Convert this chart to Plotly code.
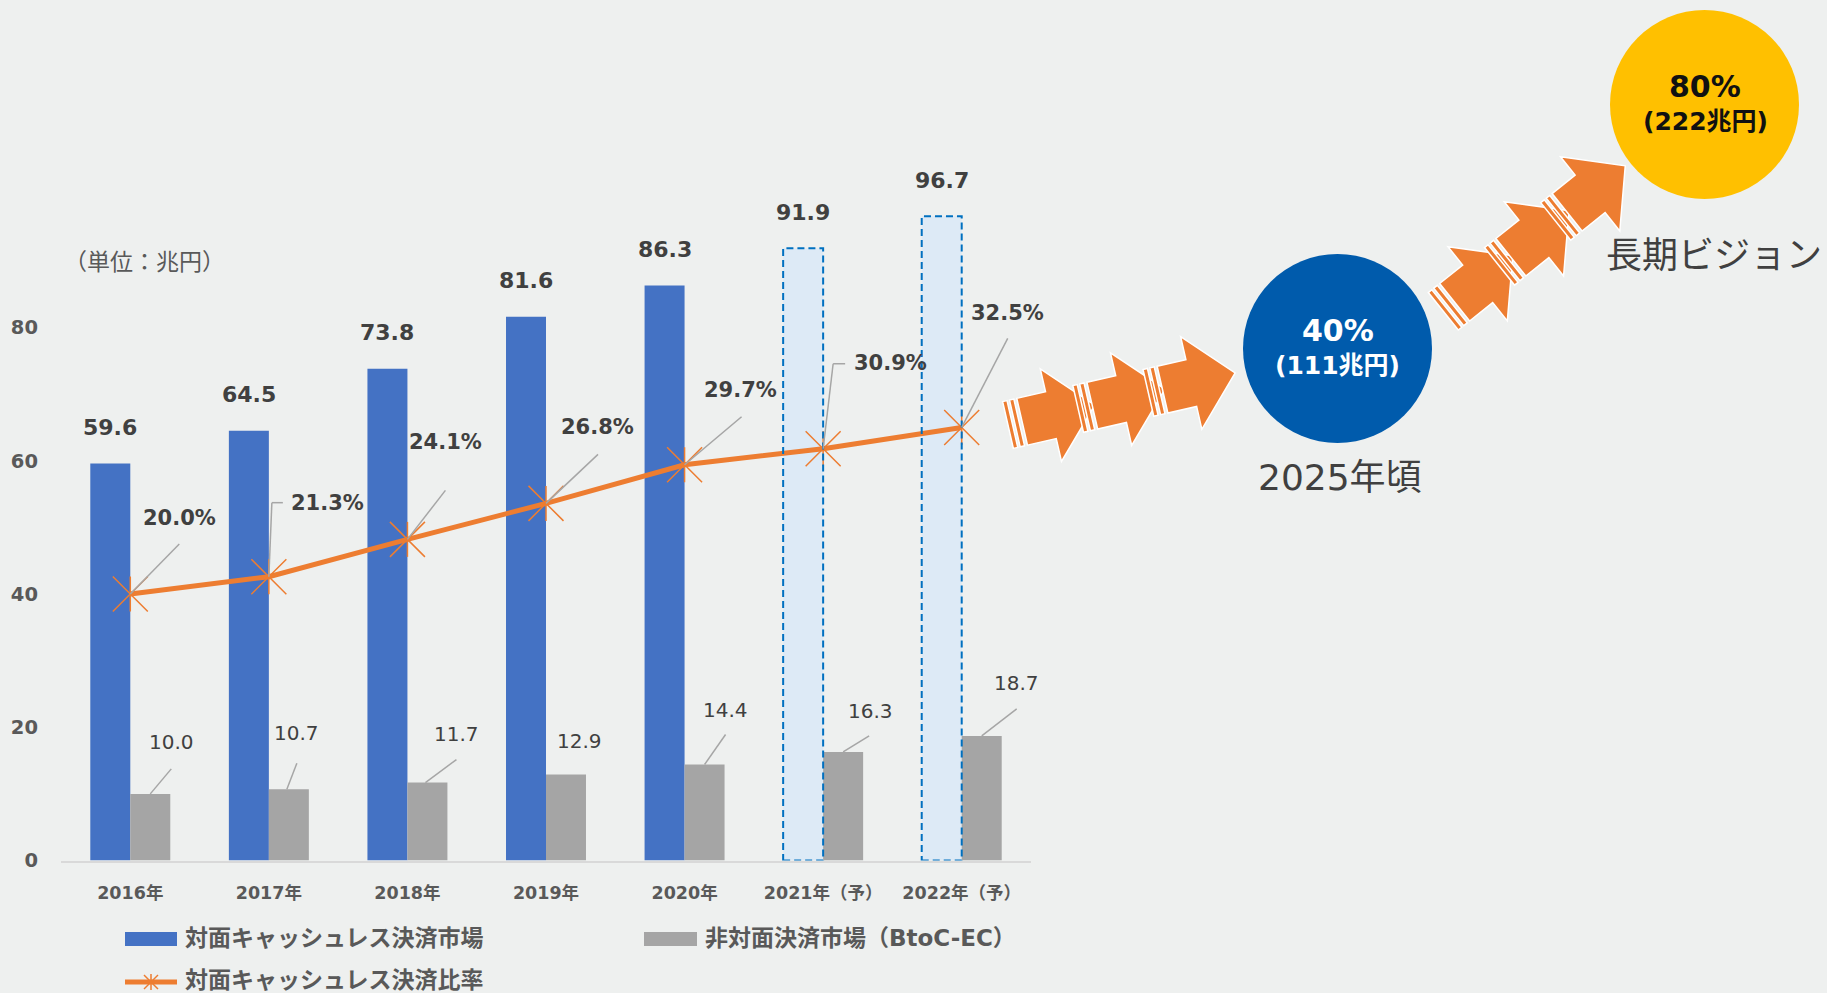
import numpy as np
import plotly.graph_objects as go

# ---------------- data ----------------
years = ["2016年", "2017年", "2018年", "2019年", "2020年", "2021年（予）", "2022年（予）"]
face_to_face = [59.6, 64.5, 73.8, 81.6, 86.3, 91.9, 96.7]          # 対面キャッシュレス決済市場
non_face = [10.0, 10.7, 11.7, 12.9, 14.4, 16.3, 18.7]              # 非対面決済市場（BtoC-EC）
ratio_pct = [20.0, 21.3, 24.1, 26.8, 29.7, 30.9, 32.5]             # 対面キャッシュレス決済比率
is_forecast = [False, False, False, False, False, True, True]
y_ticks = [0, 20, 40, 60, 80]
name_face = "対面キャッシュレス決済市場"
name_non = "非対面決済市場（BtoC-EC）"
name_ratio = "対面キャッシュレス決済比率"
unit_label = "（単位：兆円）"
target_2025 = ["40%", "(111兆円)", "2025年頃"]
target_long = ["80%", "(222兆円)", "長期ビジョン"]

# ---------------- style ----------------
W, H = 1827, 993
BG = "#EEF0EF"
FONT = "DejaVu Sans, Noto Sans CJK JP, sans-serif"
CJK = "Noto Sans CJK JP, DejaVu Sans, sans-serif"
BLUE = "#4472C4"
LIGHT_BLUE = "#DDEAF6"
DASH_BLUE = "#0070C0"
GRAY = "#A5A5A5"
ORANGE = "#ED7D31"
TXT = "#404040"
AX_TXT = "#595959"
LEADER = "#A6A6A6"
BW = 0.2886  # bar width in category units
Y_MAX = 110

# plot area in pixels
PX_L, PX_R = 61, 1031
PX_BOTTOM = 860.5
PX_PER_UNIT = 6.6625
PX_TOP = PX_BOTTOM - Y_MAX * PX_PER_UNIT


def px(x):
    return x / W


def py(y):
    return 1 - y / H


xs = list(range(len(years)))

fig = go.Figure()
fig.add_trace(go.Bar(
    x=xs, y=face_to_face, width=BW, offset=-BW, name=name_face,
    marker=dict(color=[LIGHT_BLUE if f else BLUE for f in is_forecast], line=dict(width=0)),
    hoverinfo="skip"))
fig.add_trace(go.Bar(
    x=xs, y=non_face, width=BW, offset=0, name=name_non,
    marker=dict(color=GRAY, line=dict(width=0)), hoverinfo="skip"))
fig.add_trace(go.Scatter(
    x=xs, y=ratio_pct, yaxis="y2", mode="lines+markers", name=name_ratio,
    line=dict(color=ORANGE, width=5),
    marker=dict(symbol="x-thin-open", size=35, color=ORANGE, line=dict(color=ORANGE, width=1.5)),
    hoverinfo="skip"))
fig.add_trace(go.Scatter(
    x=xs, y=ratio_pct, yaxis="y2", mode="markers", showlegend=False,
    marker=dict(symbol="line-ns-open", size=25, color=ORANGE, line=dict(color=ORANGE, width=1.5)),
    hoverinfo="skip"))

shapes = []
annotations = []

# dashed outline for forecast bars
for i, (v, f) in enumerate(zip(face_to_face, is_forecast)):
    if f:
        shapes.append(dict(type="rect", xref="x", yref="y", x0=i - BW, x1=i, y0=0, y1=v,
                           line=dict(color=DASH_BLUE, width=2, dash="7px,4px"),
                           fillcolor="rgba(0,0,0,0)", layer="above"))

# blue bar labels
for i, v in enumerate(face_to_face):
    annotations.append(dict(x=i - BW / 2, y=v, xref="x", yref="y", yshift=36,
                            text=f"{v:.1f}", showarrow=False,
                            font=dict(family=FONT, size=22, color=TXT, weight="bold")))

# gray bar labels (pixel offsets of label / leader end)
gray_label_off = [(21, 52), (8, 56), (29, 49), (13, 34), (21, 55), (27, 41), (35, 53)]
gray_leader = [((0, 0), (21, 25)), ((-2, 0), (8, 26)), ((-2, 0), (29, 23)), None,
               ((0, 0), (21, 30)), ((0, 0), (26, 16)), ((0, 0), (35, 27))]
for i, v in enumerate(non_face):
    dx, dy = gray_label_off[i]
    annotations.append(dict(x=i + BW / 2, y=v, xref="x", yref="y", xshift=dx, yshift=dy,
                            text=f"{v:.1f}", showarrow=False,
                            font=dict(family=FONT, size=20, color=TXT)))
    if gray_leader[i]:
        (a0, b0), (a1, b1) = gray_leader[i]
        shapes.append(dict(type="line", xref="x", yref="y", xsizemode="pixel", ysizemode="pixel",
                           xanchor=i + BW / 2, yanchor=v, x0=a0, y0=b0, x1=a1, y1=b1,
                           line=dict(color=LEADER, width=1.5), layer="above"))

# ratio labels
pct_label_off = [(49, 76), (59, 74), (38, 97), (51, 76), (56, 75), (67, 86), (46, 114)]
pct_leader = [[(0, 0), (49, 50)], [(0, 0), (3, 74), (14, 74)], [(0, 0), (38, 49)],
              [(0, 0), (52, 49)], [(0, 0), (57, 48)], [(0, 0), (10, 85), (22, 85)],
              [(0, 0), (46, 89)]]
for i, p in enumerate(ratio_pct):
    dx, dy = pct_label_off[i]
    annotations.append(dict(x=i, y=p, xref="x", yref="y2", xshift=dx, yshift=dy,
                            text=f"{p:.1f}%", showarrow=False,
                            font=dict(family=FONT, size=21, color=TXT, weight="bold")))
    pts = pct_leader[i]
    for (a0, b0), (a1, b1) in zip(pts[:-1], pts[1:]):
        shapes.append(dict(type="line", xref="x", yref="y2", xsizemode="pixel", ysizemode="pixel",
                           xanchor=i, yanchor=p, x0=a0, y0=b0, x1=a1, y1=b1,
                           line=dict(color=LEADER, width=1.5), layer="above"))

# unit label
annotations.append(dict(x=px(144), y=py(260), xref="paper", yref="paper", text=unit_label,
                        showarrow=False, xanchor="center", yanchor="middle",
                        font=dict(family=CJK, size=23, color=AX_TXT)))

# ---------------- legend (manual) ----------------
shapes.append(dict(type="rect", xref="paper", yref="paper", x0=px(125), x1=px(177), y0=py(946), y1=py(932),
                   fillcolor=BLUE, line=dict(width=0)))
shapes.append(dict(type="rect", xref="paper", yref="paper", x0=px(644), x1=px(697), y0=py(946), y1=py(932),
                   fillcolor=GRAY, line=dict(width=0)))
shapes.append(dict(type="line", xref="paper", yref="paper", x0=px(125), x1=px(177), y0=py(982), y1=py(982),
                   line=dict(color=ORANGE, width=5)))
for (a0, b0, a1, b1) in [(-7, -7, 7, 7), (-7, 7, 7, -7), (0, -8, 0, 8)]:
    shapes.append(dict(type="line", xref="paper", yref="paper", x0=px(151 + a0), x1=px(151 + a1),
                       y0=py(982 + b0), y1=py(982 + b1), line=dict(color=ORANGE, width=1.5)))
for txt, x, y in [(name_face, 183, 938), (name_non, 703, 938), (name_ratio, 183, 980)]:
    annotations.append(dict(x=px(x), y=py(y), xref="paper", yref="paper", text=txt, showarrow=False,
                            xanchor="left", yanchor="middle",
                            font=dict(family=FONT, size=23, color=AX_TXT, weight="bold")))

# ---------------- right side: targets ----------------
R = 94.5
for (cx, cy, col) in [(1337.5, 348.5, "#005BAC"), (1704.5, 104.5, "#FFC000")]:
    shapes.append(dict(type="circle", xref="paper", yref="paper", x0=px(cx - R), x1=px(cx + R),
                       y0=py(cy + R), y1=py(cy - R), fillcolor=col, line=dict(width=0), layer="above"))

annotations += [
    dict(x=px(1337.5), y=py(330), text=target_2025[0], font=dict(family=FONT, size=30, color="white", weight="bold")),
    dict(x=px(1337.5), y=py(365), text=target_2025[1], font=dict(family=FONT, size=25, color="white", weight="bold")),
    dict(x=px(1340), y=py(477), text=target_2025[2], font=dict(family=FONT, size=36, color=TXT)),
    dict(x=px(1705), y=py(86), text=target_long[0], font=dict(family=FONT, size=30, color="#111111", weight="bold")),
    dict(x=px(1705), y=py(122), text=target_long[1], font=dict(family=FONT, size=25, color="#111111", weight="bold")),
    dict(x=px(1714), y=py(252), text=target_long[2], font=dict(family=CJK, size=36, color=TXT)),
]
for a in annotations[-6:]:
    a.update(xref="paper", yref="paper", showarrow=False, xanchor="center", yanchor="middle")


# striped arrows
def arrow_paths(tail, ang_deg, offsets):
    th = np.radians(ang_deg)
    d = np.array([np.cos(th), np.sin(th)])
    n = np.array([np.sin(th), -np.cos(th)])
    hb, hh = 24, 47.5
    local = [
        [(0, hb), (4.5, hb), (4.5, -hb), (0, -hb)],
        [(7, hb), (11.5, hb), (11.5, -hb), (7, -hb)],
        [(14.5, hb), (44, hb), (44, hh), (89, 0), (44, -hh), (44, -hb), (14.5, -hb)],
    ]
    paths = []
    for off in offsets:
        for poly in local:
            pts = [np.array(tail) + (u + off) * d + v * n for u, v in poly]
            s = "M " + " L ".join(f"{px(p[0]):.5f},{py(p[1]):.5f}" for p in pts) + " Z"
            paths.append(s)
    return paths


for tail, ang in [((1008, 425), -12.9), ((1443.3, 311.3), -38.65)]:
    for pth in arrow_paths(tail, ang, [0, 72, 144]):
        shapes.append(dict(type="path", xref="paper", yref="paper", path=pth,
                           fillcolor=ORANGE, line=dict(color="white", width=1.5), layer="above"))

fig.update_layout(
    template="none",
    width=W, height=H,
    margin=dict(l=0, r=0, t=0, b=0, pad=0),
    paper_bgcolor=BG, plot_bgcolor=BG,
    showlegend=False,
    barmode="overlay",
    font=dict(family=FONT, color=TXT),
    xaxis=dict(domain=[px(PX_L), px(PX_R)], range=[-0.5, len(years) - 0.5],
               tickmode="array", tickvals=xs, ticktext=years,
               tickfont=dict(family=FONT, size=17.5, color=AX_TXT, weight="bold"),
               showline=True, linecolor="#D9D9D9", linewidth=1.5,
               showgrid=False, zeroline=False, ticks="", ticklabelstandoff=16,
               automargin=False, fixedrange=True),
    yaxis=dict(domain=[py(PX_BOTTOM), py(PX_TOP)], range=[0, Y_MAX],
               tickmode="array", tickvals=y_ticks,
               tickfont=dict(family=FONT, size=19.5, color=AX_TXT, weight="bold"),
               showline=False, showgrid=False, zeroline=False, ticks="", ticklabelstandoff=22,
               automargin=False, fixedrange=True),
    yaxis2=dict(overlaying="y", range=[0, Y_MAX / 2], visible=False, fixedrange=True),
    shapes=shapes,
    annotations=annotations,
)

fig.write_html("out.html", config={"displayModeBar": False})
